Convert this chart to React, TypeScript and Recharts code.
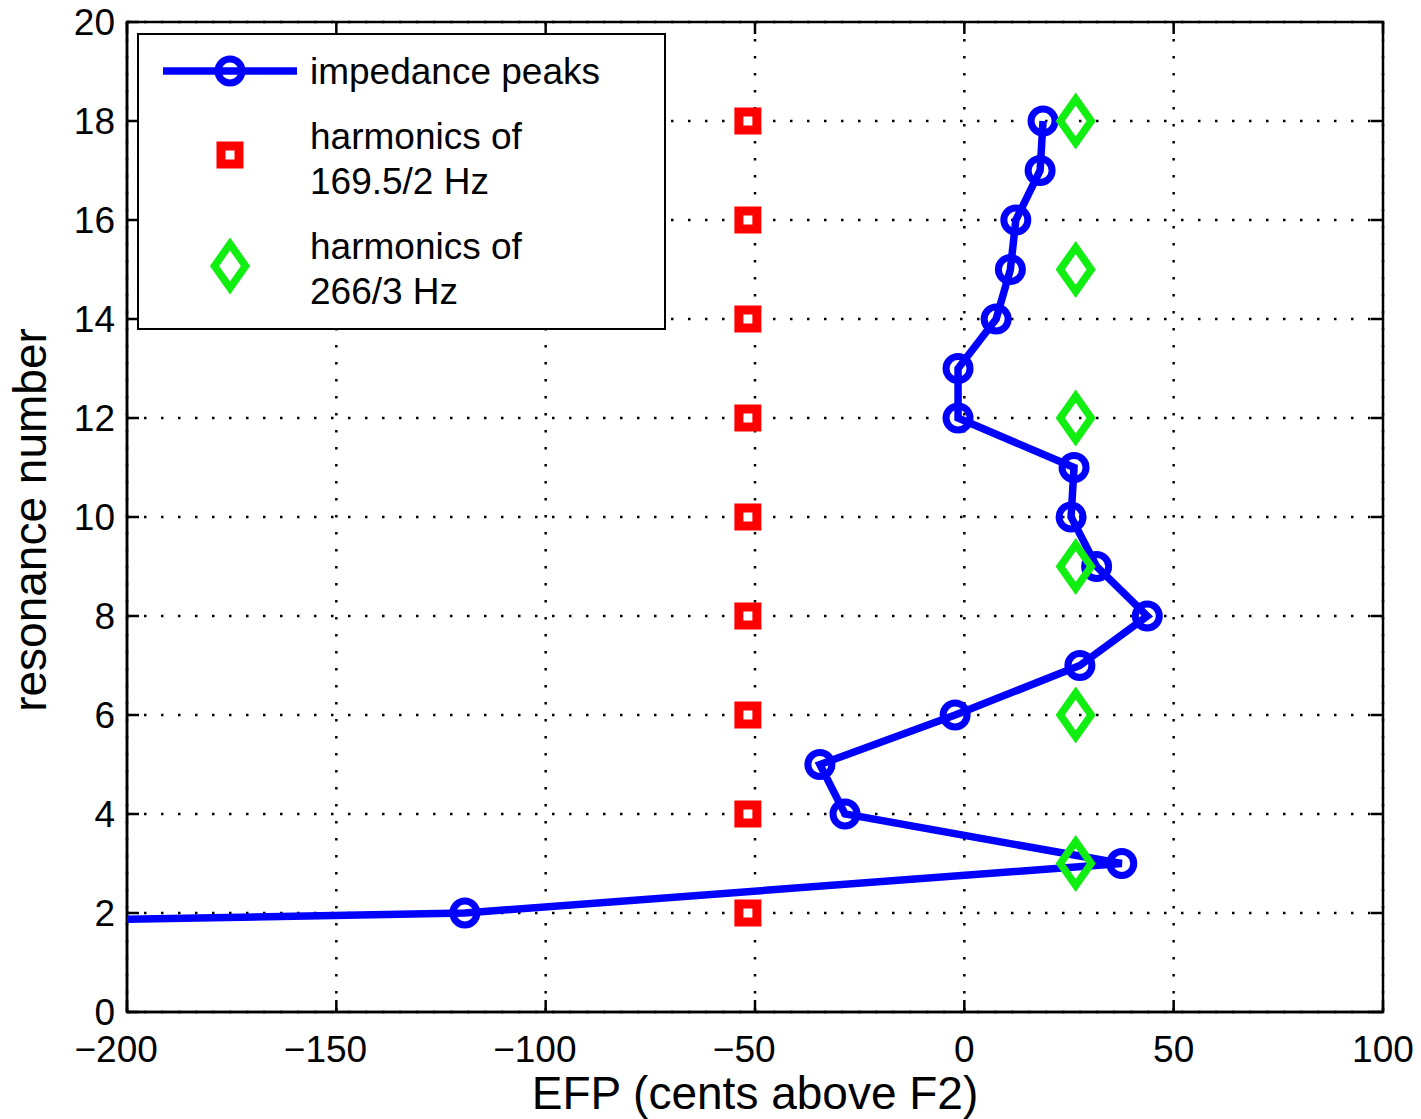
import { ComposedChart, Scatter, XAxis, YAxis, CartesianGrid, Legend, ReferenceArea } from 'recharts';

// resonance numbers and their positions in cents above F2
const resonance = [1, 2, 3, 4, 5, 6, 7, 8, 9, 10, 11, 12, 13, 14, 15, 16, 17, 18];
const peakCents = [-755, -119.3, 37.6, -28.5, -34.5, -2.2, 27.6, 43.7, 31.6, 25.5, 26.2, -1.5, -1.5, 7.6, 11, 12.3, 18.1, 18.8];

const harmonicsA = [2, 4, 6, 8, 10, 12, 14, 16, 18];
const harmonicsACents = [-51.7, -51.7, -51.7, -51.7, -51.7, -51.7, -51.7, -51.7, -51.7];

const harmonicsB = [3, 6, 9, 12, 15, 18];
const harmonicsBCents = [26.6, 26.6, 26.6, 26.6, 26.6, 26.6];

const xTicks = [-200, -150, -100, -50, 0, 50, 100];
const yTicks = [0, 2, 4, 6, 8, 10, 12, 14, 16, 18, 20];

const NAME_PEAKS = 'impedance peaks';
const NAME_A = 'harmonics of\n169.5/2 Hz';
const NAME_B = 'harmonics of\n266/3 Hz';

const peaks = resonance.map((r, i) => ({ x: peakCents[i], y: r }));
const squares = harmonicsA.map((r, i) => ({ x: harmonicsACents[i], y: r }));
const diamonds = harmonicsB.map((r, i) => ({ x: harmonicsBCents[i], y: r }));

const BLUE = '#0000ff';
const RED = '#ff0000';
const GREEN = '#11ee11';
const FONT = '"Liberation Sans", Arial, Helvetica, sans-serif';

const W = 1421;
const H = 1119;
const PLOT_LEFT = 127;
const PLOT_TOP = 22;
const PLOT_RIGHT = 1383;
const PLOT_BOTTOM = 1012;
const TICK_LEN = 12;
const TICK_FONT = 37;

const fmt = (v: number) => (v < 0 ? '\u2212' + Math.abs(v) : String(v));
// digits are centred on the tick, a minus sign hangs to the left of them
const digitsHalf = (v: number) => (String(Math.abs(v)).length * 0.556 * TICK_FONT) / 2;

const CircleMark = ({ cx, cy }: any) => (
  <circle cx={cx} cy={cy} r={12} fill="none" stroke={BLUE} strokeWidth={7} />
);

const SquareMark = ({ cx, cy }: any) => (
  <rect x={cx - 9} y={cy - 9} width={18} height={18} fill="none" stroke={RED} strokeWidth={9} />
);

const DiamondMark = ({ cx, cy }: any) => (
  <path
    d={`M${cx},${cy - 22} L${cx + 15.5},${cy} L${cx},${cy + 22} L${cx - 15.5},${cy} Z`}
    fill="none"
    stroke={GREEN}
    strokeWidth={7.5}
    strokeLinejoin="miter"
  />
);

// inward ticks on the bottom and top edges, label under the bottom one
const XTick = ({ x, payload }: any) => (
  <g>
    <line x1={x} x2={x} y1={PLOT_BOTTOM} y2={PLOT_BOTTOM - TICK_LEN} stroke="#000" strokeWidth={2.5} />
    <line x1={x} x2={x} y1={PLOT_TOP} y2={PLOT_TOP + TICK_LEN} stroke="#000" strokeWidth={2.5} />
    <text x={x + digitsHalf(payload.value)} y={1062} textAnchor="end" fontSize={TICK_FONT} fontFamily={FONT} fill="#000">
      {fmt(payload.value)}
    </text>
  </g>
);

// inward ticks on the left and right edges, label left of the left one
const YTick = ({ y, payload }: any) => (
  <g>
    <line x1={PLOT_LEFT} x2={PLOT_LEFT + TICK_LEN} y1={y} y2={y} stroke="#000" strokeWidth={2.5} />
    <line x1={PLOT_RIGHT} x2={PLOT_RIGHT - TICK_LEN} y1={y} y2={y} stroke="#000" strokeWidth={2.5} />
    <text x={115} y={y + 13} textAnchor="end" fontSize={TICK_FONT} fontFamily={FONT} fill="#000">
      {fmt(payload.value)}
    </text>
  </g>
);

const legendTextTop: Record<string, number> = {
  [NAME_PEAKS]: 14,
  [NAME_A]: 79,
  [NAME_B]: 189,
};

const LegendBox = ({ payload }: any) => (
  <div
    style={{
      position: 'relative',
      width: 529,
      height: 297,
      boxSizing: 'border-box',
      border: '2px solid #000',
      background: '#fff',
      fontFamily: FONT,
      fontSize: 37,
      color: '#000',
    }}
  >
    <svg width={529} height={297} style={{ position: 'absolute', left: -2, top: -2 }}>
      <line x1={26} x2={160} y1={38} y2={38} stroke={BLUE} strokeWidth={7.5} />
      <CircleMark cx={93} cy={38} />
      <SquareMark cx={93} cy={122} />
      <DiamondMark cx={93} cy={233} />
    </svg>
    {(payload || []).map((entry: any) => (
      <div
        key={entry.value}
        style={{
          position: 'absolute',
          left: 171,
          top: legendTextTop[entry.value] ?? 0,
          lineHeight: '45px',
          whiteSpace: 'pre-line',
        }}
      >
        {entry.value}
      </div>
    ))}
  </div>
);

export default function App() {
  return (
    <div style={{ position: 'absolute', left: 0, top: 0, background: '#fff' }}>
      <ComposedChart
        width={W}
        height={H}
        margin={{ top: PLOT_TOP, right: W - PLOT_RIGHT, bottom: 0, left: 0 }}
        style={{ fontFamily: FONT }}
      >
        <CartesianGrid stroke="#000" strokeWidth={2.5} strokeDasharray="2.5 14.5" />
        <ReferenceArea x1={-200} x2={100} y1={0} y2={20} fill="none" stroke="#000" strokeWidth={2.5} />
        <XAxis
          type="number"
          dataKey="x"
          domain={[-200, 100]}
          ticks={xTicks}
          allowDataOverflow
          height={H - PLOT_BOTTOM}
          axisLine={{ stroke: '#000', strokeWidth: 2.5 }}
          tickLine={false}
          tick={<XTick />}
          interval={0}
          label={{
            content: () => (
              <text x={(PLOT_LEFT + PLOT_RIGHT) / 2} y={1109} textAnchor="middle" fontSize={46} fontFamily={FONT} fill="#000">
                EFP (cents above F2)
              </text>
            ),
          }}
        />
        <YAxis
          type="number"
          dataKey="y"
          domain={[0, 20]}
          ticks={yTicks}
          allowDataOverflow
          width={PLOT_LEFT}
          axisLine={{ stroke: '#000', strokeWidth: 2.5 }}
          tickLine={false}
          tick={<YTick />}
          interval={0}
          label={{
            content: () => (
              <text
                x={46}
                y={(PLOT_TOP + PLOT_BOTTOM) / 2 + 3}
                textAnchor="middle"
                fontSize={46}
                fontFamily={FONT}
                fill="#000"
                transform={`rotate(-90, 46, ${(PLOT_TOP + PLOT_BOTTOM) / 2 + 3})`}
              >
                resonance number
              </text>
            ),
          }}
        />
        <Scatter
          name={NAME_PEAKS}
          data={peaks}
          fill={BLUE}
          line={{ stroke: BLUE, strokeWidth: 7.5 }}
          lineType="joint"
          shape={CircleMark}
          isAnimationActive={false}
        />
        <Scatter name={NAME_A} data={squares} fill={RED} shape={SquareMark} isAnimationActive={false} />
        <Scatter name={NAME_B} data={diamonds} fill={GREEN} shape={DiamondMark} isAnimationActive={false} />
        <Legend
          layout="vertical"
          align="center"
          verticalAlign="middle"
          content={<LegendBox />}
          wrapperStyle={{ left: 137, top: 33, right: 'auto', bottom: 'auto', width: 529, height: 297 }}
        />
      </ComposedChart>
    </div>
  );
}
